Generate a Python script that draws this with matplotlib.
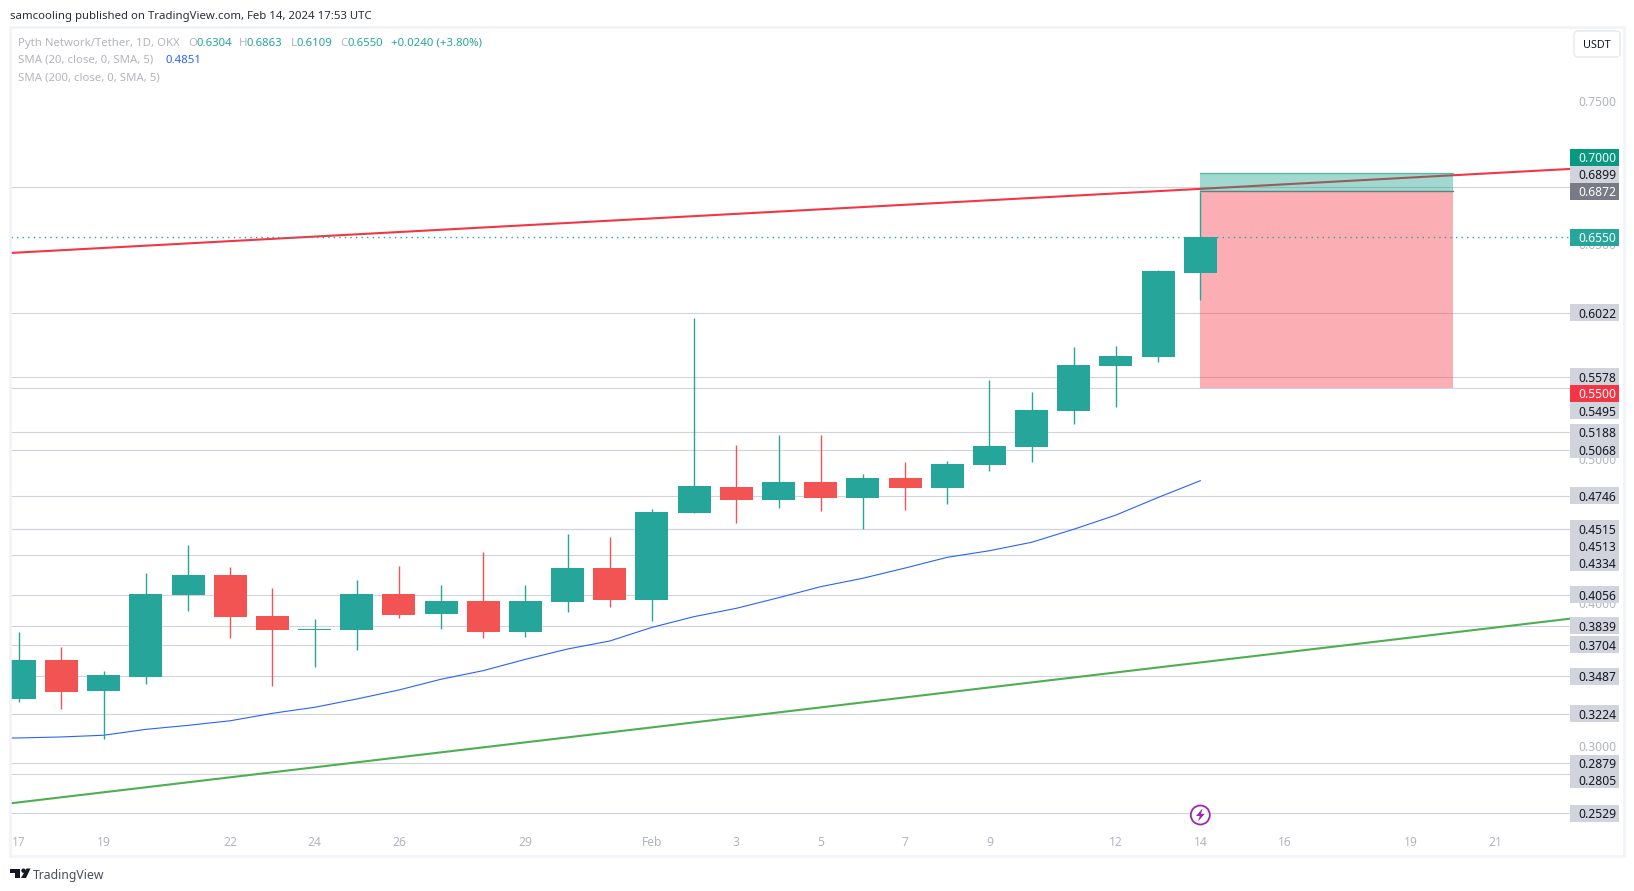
import matplotlib
matplotlib.use("Agg")
from matplotlib import pyplot as plt
from matplotlib import transforms as mtransforms
from matplotlib.patches import Rectangle, Circle, Polygon, FancyBboxPatch
import numpy as np

W, H = 1634, 891

# candles, one per day from Jan 17
opens = [.3329, .3599, .3383, .3480, .4053, .4192, .3906, .3809, .3809, .4060,
         .3920, .4011, .3795, .4004, .4241, .4018, .4625, .4807, .4716, .4842,
         .4730, .4869, .4800, .4960, .5086, .5337, .5652, .5714, .6304]
highs = [.3795, .3690, .3522, .4206, .4402, .4248, .4102, .3885, .4158, .4255,
         .4123, .4353, .4123, .4478, .4458, .4653, .5986, .5100, .5170, .5170,
         .4897, .4981, .4988, .5554, .5470, .5784, .5791, .6322, .6863]
lows = [.3308, .3257, .3050, .3434, .3941, .3753, .3418, .3550, .3669, .3892,
        .3815, .3753, .3760, .3934, .3969, .3871, .4625, .4555, .4660, .4639,
        .4513, .4646, .4688, .4918, .4981, .5246, .5365, .5679, .6109]
closes = [.3599, .3378, .3494, .4060, .4192, .3899, .3809, .3815, .4060, .3913,
          .4011, .3795, .4011, .4241, .4018, .4632, .4814, .4716, .4842, .4730,
          .4869, .4800, .4967, .5093, .5344, .5658, .5721, .6315, .6550]

# SMA 20, starts one bar left of the view
sma20_idx = list(range(-1, 29))
sma20 = [.3053, .3055, .3062, .3074, .3115, .3143, .3175, .3227, .3269, .3327,
         .3390, .3465, .3525, .3604, .3676, .3732, .3827, .3902, .3960, .4034,
         .4111, .4170, .4241, .4316, .4362, .4421, .4512, .4611, .4734, .4851]

# trend lines as (bar, price) pairs
red_line = [(0, .6444), (36, .7015)]
green_line = [(0, .2606), (36, .3861)]

# horizontal levels
levels = [.6899, .6022, .5578, .5495, .5188, .5068, .4746, .4515, .4513, .4334,
          .4056, .3839, .3704, .3487, .3224, .2879, .2805, .2529]

# long position box
box_start, box_end = 28, 34
entry, target, stop = .6872, .7000, .5500
last_price = .6550

# axis labels
tick_idx = [0, 2, 5, 7, 9, 12, 15, 17, 19, 21, 23, 26, 28, 30, 33, 35]
tick_labels = ["17", "19", "22", "24", "26", "29", "Feb", "3", "5", "7", "9",
               "12", "14", "16", "19", "21"]
price_ticks = [.30, .35, .40, .45, .50, .55, .60, .65, .70, .75]

# price tags, shift is pixels moved down to avoid overlaps
tag_shift = {.7000: -15.5, .6899: -13, .5500: 5.6, .5495: 22.3, .4513: 16.6,
             .4334: 8, .2805: 6}

UP = "#26a69a"
DOWN = "#f25353"
GRID = "#d1d4dc"
FADED = "#b2b5be"
FONT = "Noto Sans"
SIZE = 8.2
AXIS_SIZE = 8.7

plt.rcParams["font.family"] = FONT

fig = plt.figure(figsize=(W / 100, H / 100), dpi=100, facecolor="white")
# pixel coords, origin top left
pix = mtransforms.Affine2D().scale(1 / W, -1 / H).translate(0, 1) + fig.transFigure

# chart pane
left, right, top, bottom = 11, 1570, 28, 828
ax = fig.add_axes([left / W, 1 - bottom / H, (right - left) / W, (bottom - top) / H])
ax.set_facecolor("white")
bar_px = 42.18
ax.set_xlim((left - 19.3) / bar_px, (right - 19.3) / bar_px)
ax.set_ylim(.655 - (bottom - 237.3) / 1432.5, .655 - (top - 237.3) / 1432.5)
for s in ax.spines.values():
    s.set_visible(False)

ax.set_xticks(tick_idx, tick_labels)
ax.tick_params(axis="x", length=0, pad=5.5, labelcolor=FADED, labelsize=AXIS_SIZE)
ax.yaxis.tick_right()
ax.set_yticks(price_ticks, ["%.4f" % p for p in price_ticks])
ax.tick_params(axis="y", length=0, pad=5.8, labelcolor=FADED, labelsize=AXIS_SIZE)
for lab in ax.get_xticklabels():
    if lab.get_text() == "Feb":
        lab.set_fontweight("bold")

for lev in levels:
    ax.axhline(lev, color=GRID, lw=0.8, zorder=1)

ax.axline(red_line[0], red_line[1], color="#f23645", lw=1.5, zorder=2)
ax.axline(green_line[0], green_line[1], color="#4caf50", lw=1.5, zorder=2)
ax.plot(sma20_idx, sma20, color="#2962ff", lw=0.8, zorder=2)

# position box
w = box_end - box_start
ax.add_patch(Rectangle((box_start, stop), w, entry - stop, fc="#fa3a4c", alpha=0.41, lw=0, zorder=3))
ax.add_patch(Rectangle((box_start, entry), w, target - entry, fc="#089981", alpha=0.38, lw=0, zorder=3))
ax.plot([box_start, box_end], [target, target], color="#089981", alpha=0.5, lw=1, zorder=3)
ax.plot([box_start, box_end], [entry, entry], color="#5f7f80", lw=1, zorder=3)

# candles
idx = np.arange(len(opens))
o, h, l, c = map(np.array, (opens, highs, lows, closes))
colors = [UP if cc >= oo else DOWN for oo, cc in zip(opens, closes)]
ax.vlines(idx, l, h, colors=colors, lw=1.0, zorder=4)
ax.bar(idx, np.abs(c - o), bottom=np.minimum(o, c), width=33 / bar_px, color=colors, lw=0, zorder=4)

ax.axhline(last_price, color=UP, lw=1, ls=(0, (1, 3)), zorder=4)

# bolt marker at the last bar
ax.add_patch(Circle((1200.3, 815), 9.5, transform=pix, fc="white", ec="#9c27b0", lw=1.3, zorder=6))
ax.add_patch(Polygon([(1202.5, 808.5), (1196, 816), (1199.8, 816), (1198, 821.5), (1204.8, 813.8), (1201, 813.8)],
                     transform=pix, fc="#9c27b0", lw=0, zorder=7))


# price tags over the axis
def tag(value, bg, fg, weight="normal"):
    dy = tag_shift.get(value, 0)
    y_px = 237.3 + (.655 - value) * 1432.5 + dy
    fig.add_artist(Rectangle((1570, y_px - 8.5), 49, 17, transform=pix, fc=bg, lw=0, zorder=5))
    fig.text(1578 / W, 1 - y_px / H, "%.4f" % value, color=fg, fontsize=AXIS_SIZE, fontweight=weight,
             va="center_baseline", ha="left", zorder=6)


for lev in levels:
    tag(lev, GRID, "#131722")
tag(target, "#089981", "white", "bold")
tag(entry, "#787b86", "white", "bold")
tag(last_price, UP, "white", "bold")
tag(stop, "#f23645", "white", "bold")

# frame around the chart
fig.add_artist(Rectangle((10, 27), 1614, 829, transform=pix, fc="none", ec="#f0f3fa", lw=1.8, zorder=8))

# USDT button
fig.add_artist(FancyBboxPatch((1576, 33), 42, 22, boxstyle="round,pad=2,rounding_size=4", transform=pix,
                              fc="white", ec="#e6e8ef", lw=1, zorder=6))
fig.text(1597 / W, 1 - 44.5 / H, "USDT", color="#131722", fontsize=7.8, ha="center", va="center_baseline", zorder=7)


def label(x, y, s, color, size=SIZE, **kw):
    fig.text(x / W, 1 - y / H, s, color=color, fontsize=size, va="center_baseline", zorder=7, **kw)


label(10, 15, "samcooling published on TradingView.com, Feb 14, 2024 17:53 UTC", "#2a2e39")

label(18, 41.7, "Pyth Network/Tether, 1D, OKX", FADED)
for x, s, col in [(188.7, "O", FADED), (196.7, "0.6304", UP), (239, "H", FADED), (247, "0.6863", UP),
                  (290.7, "L", FADED), (296.7, "0.6109", UP), (340, "C", FADED), (347, "0.6550", UP),
                  (390.7, "+0.0240 (+3.80%)", UP)]:
    label(x, 41.7, s, col)
label(18, 59, "SMA (20, close, 0, SMA, 5)", FADED)
label(165, 59, "0.4851", "#2962ff")
label(18, 76.7, "SMA (200, close, 0, SMA, 5)", FADED)

# logo
logo = "#131722"
fig.add_artist(Polygon([(10, 868.5), (20.5, 868.5), (20.5, 878), (15, 878), (15, 873), (10, 873)],
                       transform=pix, fc=logo, lw=0))
fig.add_artist(Circle((23.5, 870.7), 2.2, transform=pix, fc=logo, lw=0))
fig.add_artist(Polygon([(26.5, 868.5), (30.5, 868.5), (26, 878), (21, 878)], transform=pix, fc=logo, lw=0))
label(33, 874, "TradingView", "#4a4e59", size=8.8)

fig.savefig("out.png", dpi=100)
